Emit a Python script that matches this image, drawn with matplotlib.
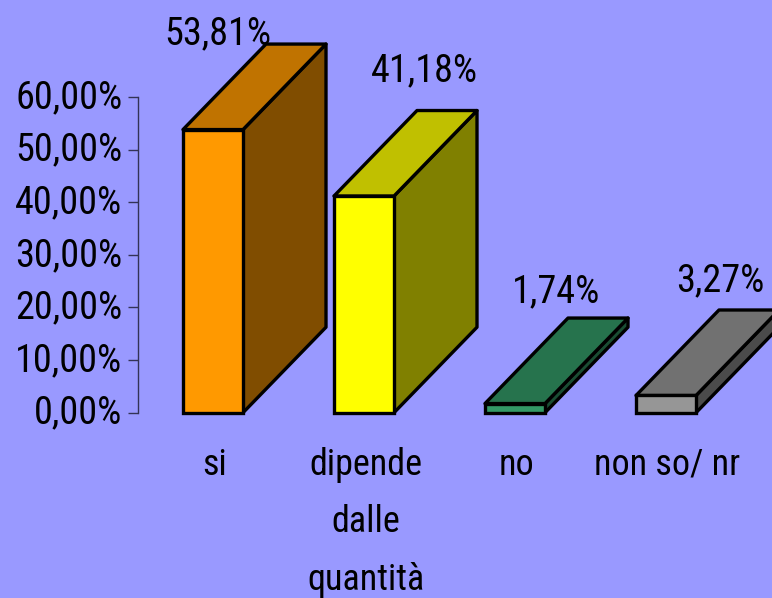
"""Pseudo-3D bar chart of survey answers."""

import matplotlib
matplotlib.use("Agg")
import matplotlib.pyplot as plt
from matplotlib.patches import Polygon
from matplotlib.transforms import ScaledTranslation

W, H = 772, 598
BG = "#9999ff"

categories = ["si", "dipende\ndalle\nquantità", "no", "non so/ nr"]
values = [53.81, 41.18, 1.74, 3.27]
value_labels = ["53,81%", "41,18%", "1,74%", "3,27%"]
tick_values = [0, 10, 20, 30, 40, 50, 60]
tick_labels = ["0,00%", "10,00%", "20,00%", "30,00%", "40,00%", "50,00%", "60,00%"]
front_colors = ["#ff9900", "#ffff00", "#339966", "#969696"]
top_colors = ["#c07300", "#c0c000", "#26734d", "#717171"]
side_colors = ["#804d00", "#808000", "#1a4d33", "#4b4b4b"]

plt.rcParams["font.family"] = ["Roboto Condensed", "Liberation Sans", "DejaVu Sans"]
FS = 27.5
FS_CAT = 26

fig = plt.figure(figsize=(W / 100, H / 100), dpi=100, facecolor=BG)
# axes placed so 0% sits at y=412.7px and 60% at y=97px
ax = fig.add_axes([138 / W, 1 - 412.7 / H, (W - 138) / W, 315.7 / H])
ax.set_facecolor("none")
PX_X = 151.0  # px per category
PX_Y = 315.7 / 60  # px per percent
ax.set_xlim(-75 / PX_X, (W - 213) / PX_X)
ax.set_ylim(0, 60)

bar_w = 60 / PX_X
dx = 83 / PX_X
dy = 85.5 / PX_Y

for i, v in enumerate(values):
    l, r = i - bar_w / 2, i + bar_w / 2
    ax.bar(i, v, bar_w, color=front_colors[i], edgecolor="black", lw=2.4, zorder=3, clip_on=False)
    ax.add_patch(Polygon([(r, 0), (r + dx, dy), (r + dx, v + dy), (r, v)],
                         fc=side_colors[i], ec="black", lw=2.4, joinstyle="round", clip_on=False, zorder=2))
    ax.add_patch(Polygon([(l, v), (l + dx, v + dy), (r + dx, v + dy), (r, v)],
                         fc=top_colors[i], ec="black", lw=2.4, joinstyle="round", clip_on=False, zorder=2))

label_x = [0.03, 1.40, 2.27, 3.36]
label_y = [70.1, 62.9, 21.0, 23.1]
for x, y, s in zip(label_x, label_y, value_labels):
    ax.text(x, y, s, fontsize=FS, ha="center", va="baseline", color="black", clip_on=False, zorder=1)

for i, c in enumerate(categories):
    for j, line in enumerate(c.split("\n")):
        ax.text(i + 0.01, -11.75 - j * 11.0, line, fontsize=FS_CAT, ha="center", va="baseline", clip_on=False)

for s in ["top", "right", "bottom"]:
    ax.spines[s].set_visible(False)
ax.spines["left"].set_linewidth(1)
ax.spines["left"].set_color("#333355")
ax.set_xticks([])
ax.set_yticks(tick_values)
ax.set_yticklabels(tick_labels, fontsize=FS)
ax.tick_params(axis="y", length=7.2, width=1, color="#333355", pad=4)
# tick labels sit a little above their ticks in the original
for t in ax.get_yticklabels():
    t.set_transform(t.get_transform() + ScaledTranslation(0, 3.5 / 100, fig.dpi_scale_trans))

fig.savefig("out.png", dpi=100, facecolor=BG)
